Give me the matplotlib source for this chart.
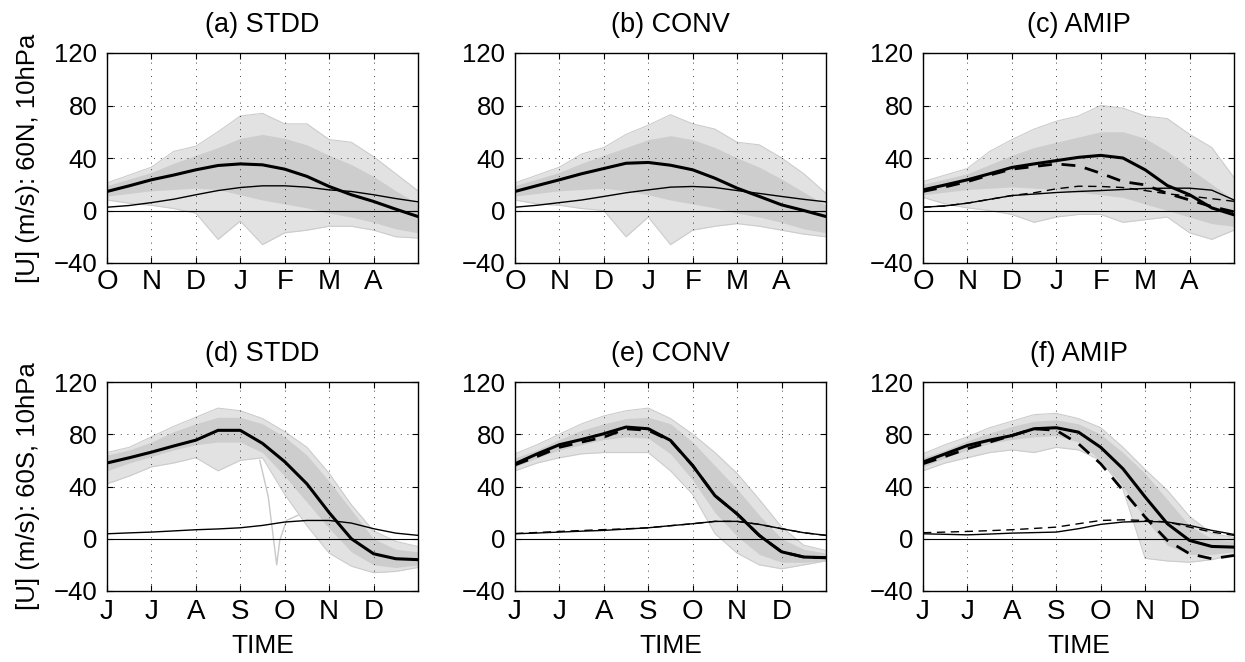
import matplotlib
matplotlib.use("Agg")
import matplotlib.pyplot as plt
import numpy as np

plt.rcParams['font.family'] = ['Liberation Sans', 'DejaVu Sans']

# time axis (months since start, half-month steps)
t = [0, 0.5, 1, 1.5, 2, 2.5, 3, 3.5, 4, 4.5, 5, 5.5, 6, 6.5, 7]
nh_months = ['O', 'N', 'D', 'J', 'F', 'M', 'A']
sh_months = ['J', 'J', 'A', 'S', 'O', 'N', 'D']
titles = ['(a) STDD', '(b) CONV', '(c) AMIP', '(d) STDD', '(e) CONV', '(f) AMIP']
yticks = [-40, 0, 40, 80, 120]

# ---- (a) STDD, 60N ----
a_mean = [14.5, 18.8, 23.4, 27, 31, 34.3, 35.5, 34.8, 31.5, 26, 18.3, 12, 6.9, 1, -4.6]
a_std = [2.5, 3.8, 6, 8.6, 12, 15.2, 17.5, 18.8, 18.8, 17.8, 15.7, 14.5, 12, 9.1, 6.6]
a_hi = [21, 27, 33, 45, 49, 60, 72, 74, 66, 66, 54, 52, 41, 28, 15]
a_lo = [8, 5.5, 4, 1.5, -2, -22, -8, -26, -17, -15, -12, -12, -15, -20, -21]
a_core_hi = [19, 24, 29, 36, 42, 48, 55, 58, 55, 50, 42, 35, 26, 15, 5]
a_core_lo = [11, 13, 15, 16, 17, 16, 12, 8, 5, 2, -2, -5, -9, -14, -17]

# ---- (b) CONV, 60N ----
b_mean = [14.5, 19, 23.4, 28, 32, 36, 36.6, 34.5, 31, 24.6, 17, 10.7, 4.3, 0, -4.6]
b_std = [2.5, 4, 6, 8, 10.7, 13.5, 15.7, 17.8, 18.3, 17.5, 15.2, 13, 10.7, 8.5, 6.6]
b_hi = [21, 27, 33, 43, 48, 58, 65, 73, 66, 62, 52, 50, 40, 28, 13]
b_lo = [8, 5, 4, 1.5, 0, -20, -5, -26, -15, -12, -10, -12, -15, -18, -20]
b_core_hi = [19, 24, 29, 36, 42, 48, 54, 57, 54, 48, 40, 33, 24, 14, 4]
b_core_lo = [11, 13, 15, 16, 17, 15, 12, 8, 5, 2, -2, -5, -9, -14, -17]

# ---- (c) AMIP, 60N ----
c_mean = [15.7, 19.5, 23.4, 28, 32.8, 35.5, 38, 40.5, 42, 40, 31, 19, 12, 2, -3.3]
c_std = [2.5, 3.5, 5.6, 8.5, 11.4, 12.5, 13.7, 14.5, 15.2, 16, 16.8, 17, 17, 15.5, 8]
c_ref_mean = [14.5, 18, 22, 27, 31.5, 33.5, 35.5, 34, 28.4, 22, 19.5, 13, 8, 3, -1]
c_ref_std = [2.5, 3.5, 5.6, 8.5, 11.4, 13.5, 16.5, 18.5, 18.3, 17.5, 15.2, 12.7, 11, 9, 7]
c_hi = [22, 27, 32, 45, 54, 62, 68, 72, 80, 78, 72, 70, 58, 48, 25]
c_lo = [10, 5, 2, 0, -3, -9, -5, -3, -3, -9, -7, -5, -17, -22, -15]
c_core_hi = [20, 24, 28, 35, 42, 48, 52, 56, 60, 60, 55, 45, 32, 20, 8]
c_core_lo = [12, 14, 16, 17, 18, 17, 16, 14, 12, 10, 5, 0, -5, -10, -12]

# ---- (d) STDD, 60S ----
d_mean = [58, 62, 66.3, 71, 75.5, 83, 83, 73, 59, 42, 20, 0, -11.5, -15.3, -16]
d_std = [3.8, 4.5, 5.1, 6, 6.9, 7.5, 8.4, 10.2, 12.8, 14, 14, 12, 7.7, 4.3, 2.6]
d_hi = [66, 70, 78, 86, 93, 100, 98, 92, 82, 70, 50, 26, 6, -2, -6]
d_lo = [42, 48, 55, 58, 62, 52, 60, 62, 34, 10, -11, -21, -26, -25, -22]
d_core_hi = [64, 68, 74, 82, 88, 93, 93, 88, 78, 64, 44, 22, 0, -8, -10]
d_core_lo = [52, 58, 63, 68, 72, 74, 74, 66, 48, 28, 8, -10, -20, -22, -20]
d_out_t = [3.44, 3.63, 3.82, 3.89, 4.04, 4.3]
d_out_u = [60, 32, -20, -1, 14, 18]

# ---- (e) CONV, 60S ----
e_mean = [57.4, 65, 72, 76, 80.4, 85.5, 84.2, 75.3, 56, 33, 19, 2.5, -10, -14, -14.5]
e_std = [3.8, 4.4, 5.1, 5.8, 6.4, 7.4, 8.4, 10, 11.5, 13.3, 13.3, 11, 7.7, 4.6, 2.6]
e_ref_mean = [56.5, 63, 70, 74, 77.8, 84.2, 83, 75, 56, 33, 19, 2.5, -10, -14, -14.5]
e_ref_std = [4, 4.8, 5.6, 6.3, 7, 7.6, 8.4, 10, 11.5, 13.3, 13.3, 11, 7.7, 4.6, 2.6]
e_hi = [65, 72, 80, 88, 94, 98, 100, 92, 80, 66, 50, 30, 9, -5, -9]
e_lo = [52, 58, 62, 65, 66, 66, 66, 52, 34, 4, -11, -20, -23, -20, -17]
e_core_hi = [62, 68, 76, 83, 88, 92, 93, 88, 74, 56, 38, 18, 0, -8, -11]
e_core_lo = [55, 62, 68, 72, 76, 78, 77, 65, 45, 20, 2, -12, -18, -18, -17]

# ---- (f) AMIP, 60S ----
f_mean = [58.7, 65, 71.4, 75.5, 79, 84.2, 85, 81.6, 70, 53.6, 32, 11.5, -1.3, -5.9, -6.4]
f_std = [3.8, 3.4, 3, 3.6, 4.3, 4.7, 5.1, 7.7, 11, 12.8, 13.3, 12.8, 10.2, 6.4, 3.3]
f_ref_mean = [57.4, 63, 68.9, 74, 79, 84.2, 83, 72.7, 57.4, 37, 16.6, -1.3, -11.5, -15.3, -12.8]
f_ref_std = [4.6, 5.1, 5.6, 6.2, 6.9, 7.9, 8.9, 11.5, 14, 14.5, 14, 12.8, 8.9, 5.1, 2.6]
f_hi = [65, 72, 78, 85, 90, 95, 96, 92, 85, 70, 53, 37, 17, 4, 1]
f_lo = [52, 58, 62, 66, 68, 66, 70, 68, 60, 38, -15, -17, -18, -16, -12]
f_core_hi = [62, 68, 75, 81, 86, 90, 91, 88, 80, 66, 50, 30, 10, 0, -2]
f_core_lo = [55, 62, 68, 73, 76, 78, 79, 74, 60, 40, 15, -5, -12, -12, -10]

panels = [
    dict(mean=a_mean, std=a_std, hi=a_hi, lo=a_lo, chi=a_core_hi, clo=a_core_lo),
    dict(mean=b_mean, std=b_std, hi=b_hi, lo=b_lo, chi=b_core_hi, clo=b_core_lo),
    dict(mean=c_mean, std=c_std, hi=c_hi, lo=c_lo, chi=c_core_hi, clo=c_core_lo,
         rmean=c_ref_mean, rstd=c_ref_std),
    dict(mean=d_mean, std=d_std, hi=d_hi, lo=d_lo, chi=d_core_hi, clo=d_core_lo,
         out=(d_out_t, d_out_u)),
    dict(mean=e_mean, std=e_std, hi=e_hi, lo=e_lo, chi=e_core_hi, clo=e_core_lo,
         rmean=e_ref_mean, rstd=e_ref_std),
    dict(mean=f_mean, std=f_std, hi=f_hi, lo=f_lo, chi=f_core_hi, clo=f_core_lo,
         rmean=f_ref_mean, rstd=f_ref_std),
]

W, H = 1245, 662
fig = plt.figure(figsize=(W / 100, H / 100), dpi=100)
lefts = [107, 515, 923]
aw = 311
rows = [(53, 263), (382, 591)]
FS_Y = 18.5
FS_X = 20
FS_T = 19.5

for i, p in enumerate(panels):
    r, c = divmod(i, 3)
    top, bot = rows[r]
    ax = fig.add_axes([lefts[c] / W, (H - bot) / H, aw / W, (bot - top) / H])
    ax.fill_between(t, p['lo'], p['hi'], color='#e2e2e2', lw=0, zorder=1)
    ax.fill_between(t, p['clo'], p['chi'], color='#cdcdcd', lw=0, zorder=1.2)
    ax.plot(t, p['hi'], color='#cccccc', lw=0.8, zorder=1.3)
    ax.plot(t, p['lo'], color='#cccccc', lw=0.8, zorder=1.3)
    if 'out' in p:
        ax.plot(p['out'][0], p['out'][1], color='#c8c8c8', lw=1.0, zorder=1.3)
    ax.axhline(0, color='black', lw=0.8, zorder=2)
    ax.plot(t, p['std'], color='black', lw=1.0, zorder=3)
    ax.plot(t, p['mean'], color='black', lw=2.2, zorder=3)
    if 'rmean' in p:
        ax.plot(t, p['rstd'], color='black', lw=1.0, ls=(0, (6, 4)), zorder=3)
        ax.plot(t, p['rmean'], color='black', lw=2.0, ls=(0, (5, 3.5)), zorder=3)
    ax.set_xlim(0, 7)
    ax.set_ylim(-40, 120)
    ax.set_yticks(yticks)
    ax.set_xticks(range(7))
    ax.set_xticklabels(nh_months if r == 0 else sh_months)
    ax.grid(True, color='black', lw=0.6, ls=(0, (1, 7)))
    ax.tick_params(direction='in', length=4, width=0.8, top=True, right=True)
    ax.tick_params(axis='x', pad=4 if r == 0 else 6, labelsize=FS_X)
    ax.tick_params(axis='y', pad=7, labelsize=FS_Y)
    for s in ax.spines.values():
        s.set_linewidth(1.0)
    ax.set_title(titles[i], fontsize=FS_T, pad=15)
    if c == 0:
        ax.set_ylabel('[U] (m/s): 60N, 10hPa' if r == 0 else '[U] (m/s): 60S, 10hPa',
                      fontsize=FS_Y)
        ax.yaxis.set_label_coords(-0.215, 0.5)
    if r == 1:
        ax.set_xlabel('TIME', fontsize=19, labelpad=6)

fig.savefig('out.png', dpi=100)
